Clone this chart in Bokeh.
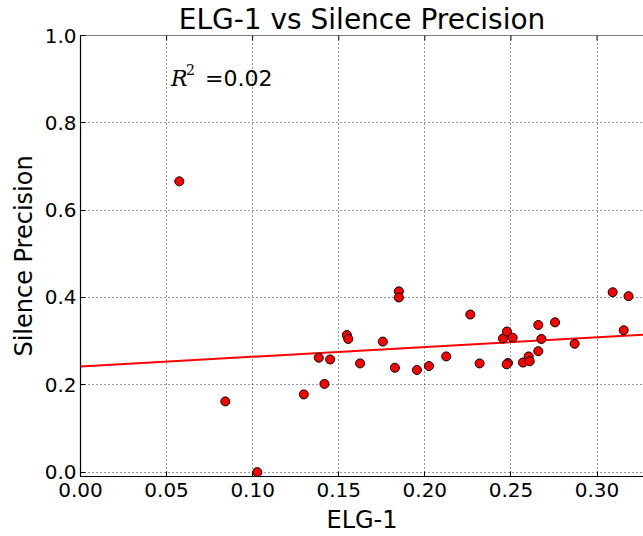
from bokeh.plotting import figure
from bokeh.models import FixedTicker, NumeralTickFormatter, Range1d, Span
from bokeh.core.properties import value
from bokeh.embed import file_html
from bokeh.resources import INLINE
import numpy as np

# ELG-1 score and silence precision for each run
elg1 = [0.0574, 0.0841, 0.1027, 0.1297, 0.1384, 0.1417, 0.1450, 0.1547, 0.1555,
        0.1624, 0.1756, 0.1826, 0.1849, 0.1849, 0.1954, 0.2024, 0.2124, 0.2264,
        0.2318, 0.2454, 0.2477, 0.2483, 0.2475, 0.2510, 0.2570, 0.2603, 0.2609,
        0.2659, 0.2659, 0.2677, 0.2756, 0.2870, 0.3091, 0.3155, 0.3183]
silence_precision = [0.666, 0.162, 0.000, 0.178, 0.262, 0.202, 0.258, 0.314, 0.305,
                     0.249, 0.299, 0.239, 0.414, 0.400, 0.234, 0.243, 0.265, 0.361,
                     0.249, 0.306, 0.322, 0.250, 0.247, 0.308, 0.251, 0.265, 0.254,
                     0.277, 0.337, 0.305, 0.343, 0.294, 0.412, 0.325, 0.403]

# linear fit shown on the chart
fit_intercept = 0.242
fit_slope = 0.2226
r_squared = 0.02

x_ticks = [0.00, 0.05, 0.10, 0.15, 0.20, 0.25, 0.30]
y_ticks = [0.0, 0.2, 0.4, 0.6, 0.8, 1.0]

FONT = "DejaVu Sans"
X_END = 0.327
Y_MIN, Y_MAX = -0.01, 1.0

p = figure(width=643, height=536, output_backend="svg", toolbar_location=None,
           x_range=Range1d(0, X_END), y_range=Range1d(Y_MIN, Y_MAX),
           title="ELG-1 vs Silence Precision",
           min_border_left=80, min_border_right=0, min_border_top=0,
           min_border_bottom=0)
p.outline_line_color = None
p.background_fill_color = "white"
p.border_fill_color = "white"

p.title.align = "center"
p.title.text_font = FONT
p.title.text_font_size = "28px"
p.title.text_font_style = "normal"
p.title.text_color = "black"
p.title.text_line_height = 1.0
p.title.standoff = 0

xaxis = p.below[0]
yaxis = p.left[0]

for ax in (xaxis, yaxis):
    ax.major_tick_in = 5
    ax.major_tick_out = 0
    ax.minor_tick_line_color = None
    ax.axis_line_color = "black"
    ax.axis_line_width = 1.2
    ax.major_tick_line_color = "black"
    ax.major_label_text_font = FONT
    ax.major_label_text_font_size = "20px"
    ax.major_label_text_color = "black"
    ax.axis_label_text_font = FONT
    ax.axis_label_text_font_size = "24px"
    ax.axis_label_text_font_style = "normal"
    ax.axis_label_text_color = "black"

xaxis.ticker = FixedTicker(ticks=x_ticks)
xaxis.formatter = NumeralTickFormatter(format="0.00")
xaxis.major_label_standoff = 6
xaxis.axis_label = "ELG-1"
xaxis.axis_label_standoff = 6

yaxis.ticker = FixedTicker(ticks=y_ticks)
yaxis.formatter = NumeralTickFormatter(format="0.0")
yaxis.major_label_standoff = 4
yaxis.axis_label = "Silence Precision"
yaxis.axis_label_standoff = 4

p.grid.grid_line_color = "black"
p.grid.grid_line_dash = "1 3"
p.grid.grid_line_width = 1
p.grid.grid_line_alpha = 0.8

# top spine with small inward ticks
p.add_layout(Span(location=Y_MAX, dimension="width", line_color="black", line_width=1.2))
tick_len = 5 / 436.5
p.segment(x0=x_ticks, y0=[Y_MAX] * len(x_ticks), x1=x_ticks,
          y1=[Y_MAX - tick_len] * len(x_ticks), line_color="black", line_width=1)

# regression line
fx = np.array([0.0, 0.34])
p.line(fx, fit_intercept + fit_slope * fx, line_color="red", line_width=2)

p.scatter(elg1, silence_precision, size=9, fill_color="red", line_color="black",
          line_width=1)

# R^2 annotation
rx, ry = 0.0526, 0.902
p.text(x=[rx], y=[ry], text=["R"], text_font=value("DejaVu Serif"),
       text_font_style="italic", text_font_size="22px",
       text_baseline="alphabetic", text_color="black")
p.text(x=[rx + 15 / 1720], y=[ry + 9 / 436.5], text=["2"],
       text_font=value("DejaVu Serif"), text_font_size="14px",
       text_baseline="alphabetic", text_color="black")
p.text(x=[rx + 34 / 1720], y=[ry], text=[f"={r_squared:.2f}"], text_font=value(FONT),
       text_font_size="22px", text_baseline="alphabetic", text_color="black")

open("out.html", "w").write(file_html(p, INLINE))
